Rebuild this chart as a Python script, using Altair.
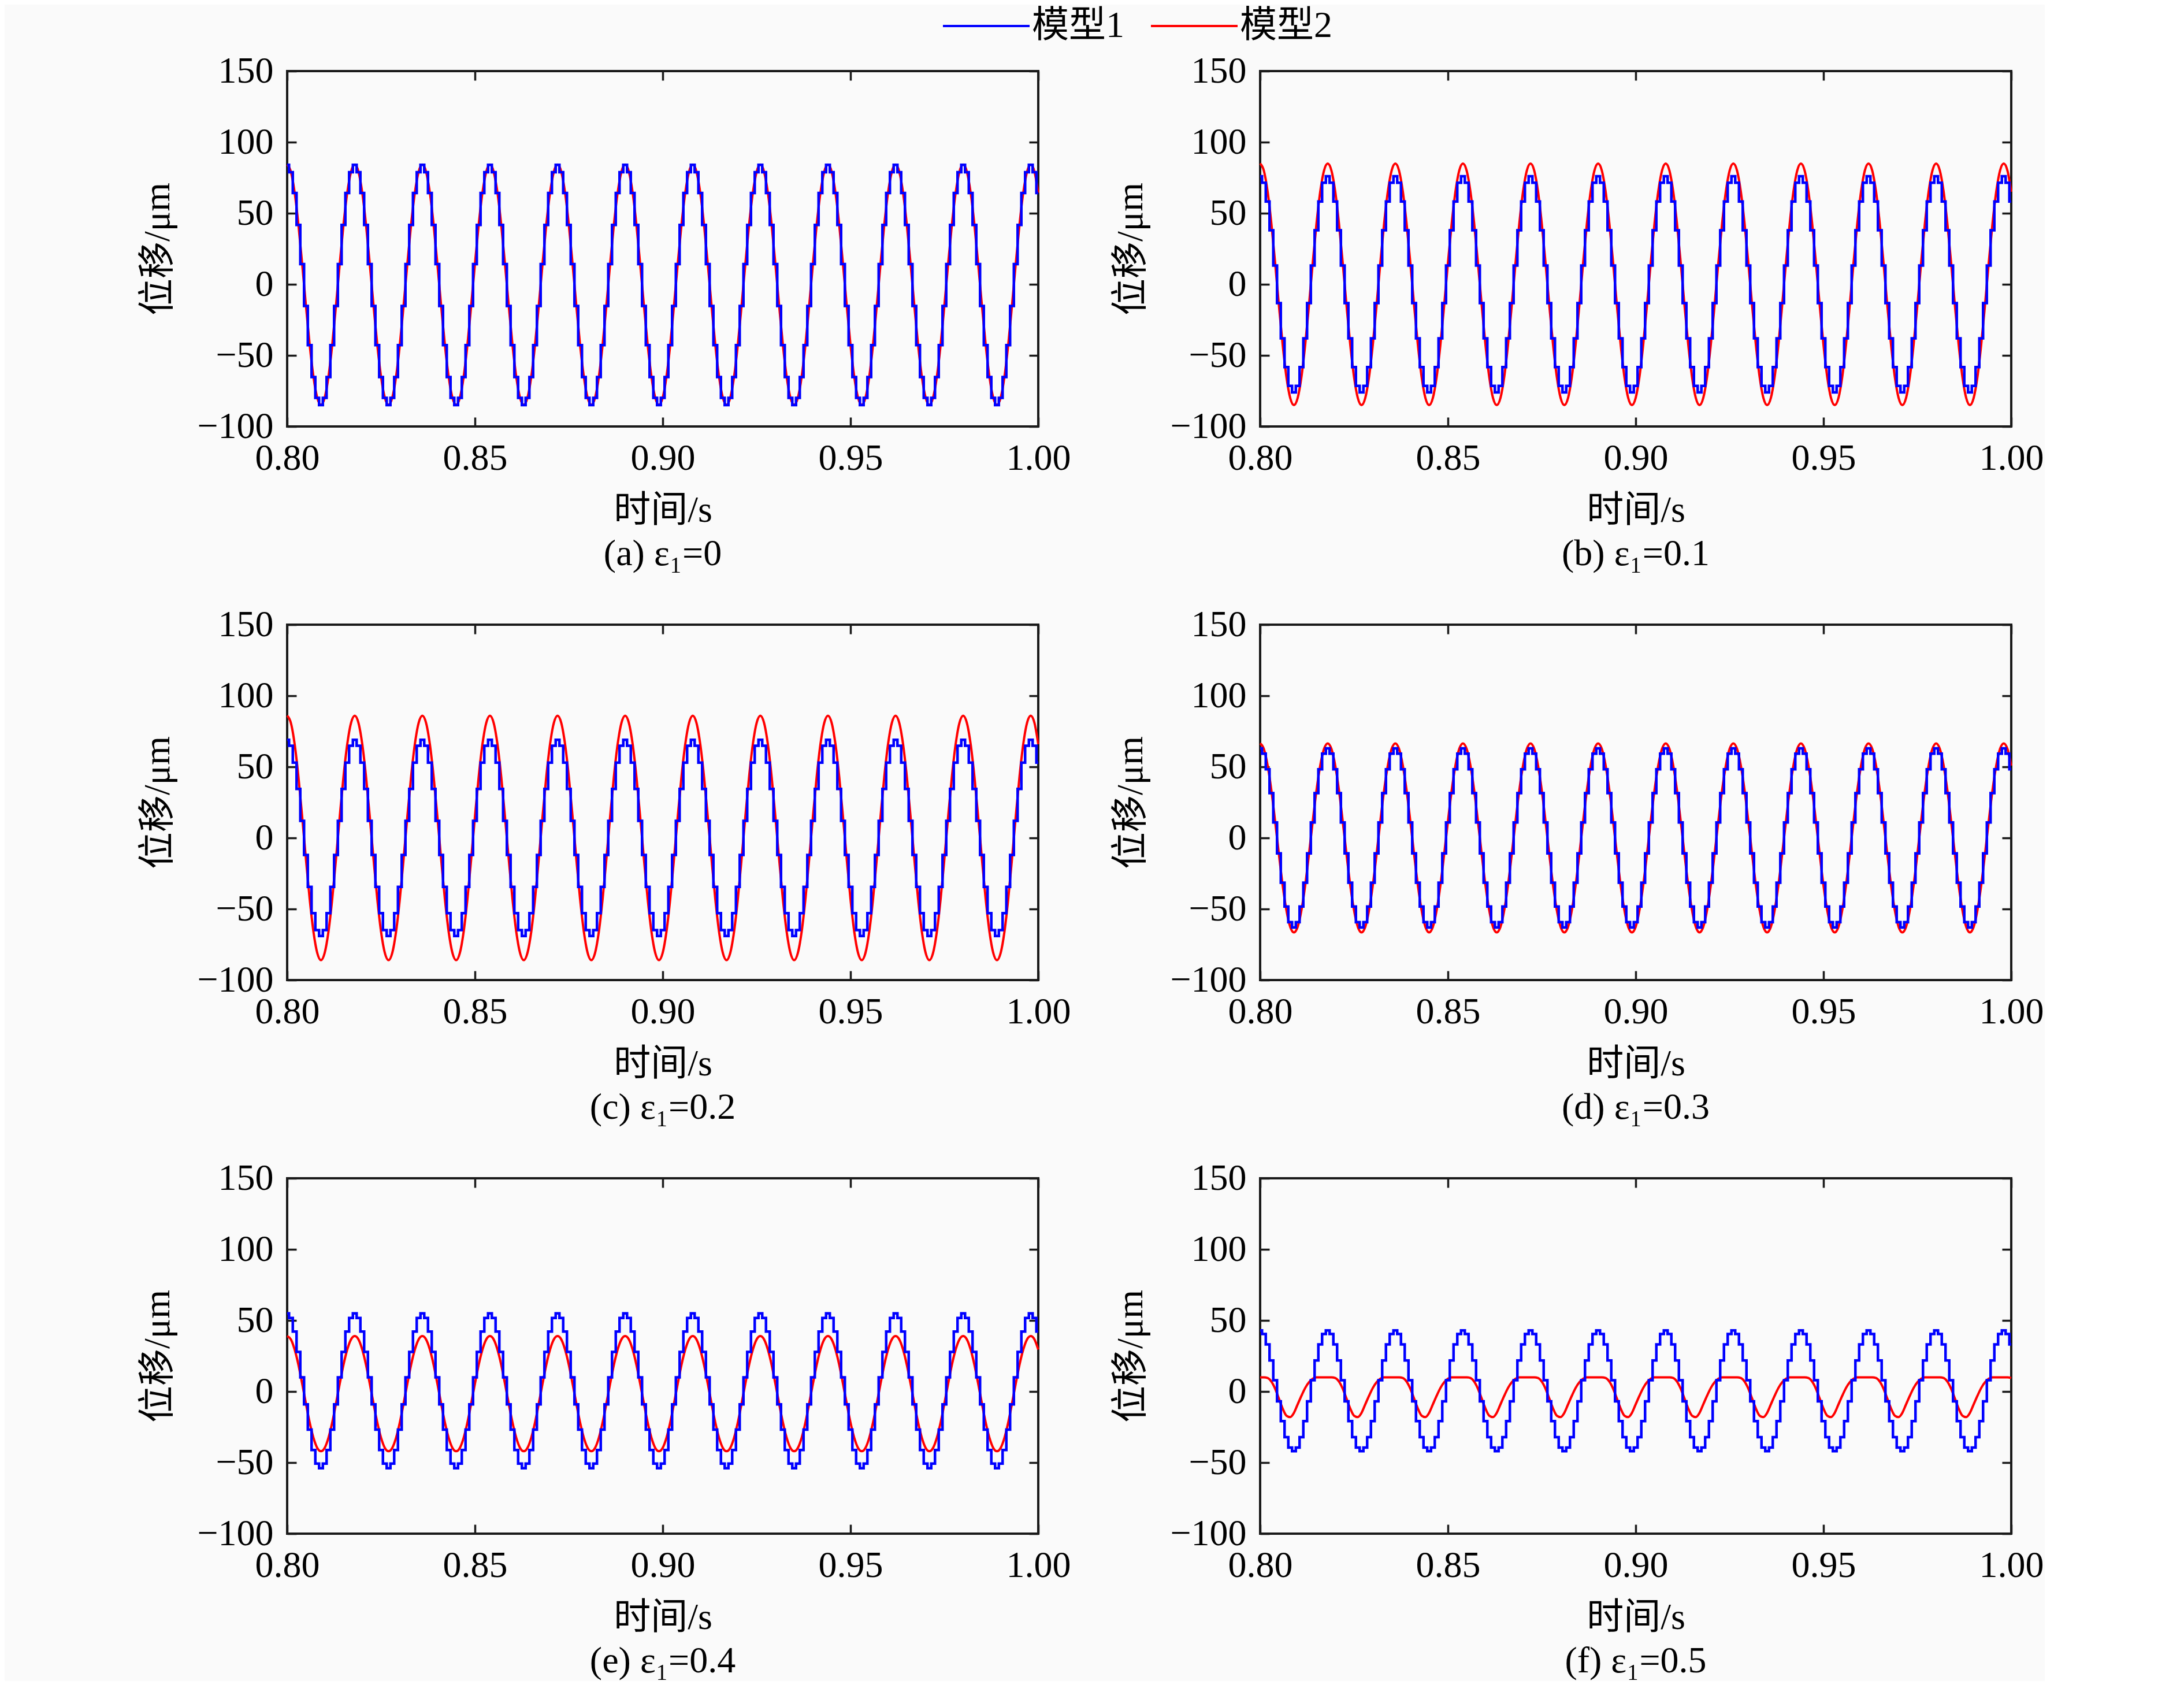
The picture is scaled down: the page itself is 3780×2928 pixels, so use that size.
import altair as alt
import pandas as pd

SERIES = ["模型1", "模型2"]
COLORS = ["#0000ff", "#ff0000"]
PANEL_TITLES = ["(a) ε₁=0", "(b) ε₁=0.1", "(c) ε₁=0.2", "(d) ε₁=0.3", "(e) ε₁=0.4", "(f) ε₁=0.5"]
X_TICKS = [0.80, 0.85, 0.90, 0.95, 1.00]
Y_TICKS = [-100, -50, 0, 50, 100, 150]
TIME_MS = list(range(800, 1001))  # 1 ms sampling grid, 0.800 s .. 1.000 s

# displacement (um) read at each 1 ms sample
BLUE_A = [
    84, 78.9, 64.2, 41.8, 14.2, -15.2, -42.8, -65.2, -79.9, -85, -79.9, -65.2, -42.8, -15.2, 14.2, 41.8, 64.2, 78.9,
    84, 78.9, 64.2, 41.8, 14.2, -15.2, -42.8, -65.2, -79.9, -85, -79.9, -65.2, -42.8, -15.2, 14.2, 41.8, 64.2, 78.9,
    84, 78.9, 64.2, 41.8, 14.2, -15.2, -42.8, -65.2, -79.9, -85, -79.9, -65.2, -42.8, -15.2, 14.2, 41.8, 64.2, 78.9,
    84, 78.9, 64.2, 41.8, 14.2, -15.2, -42.8, -65.2, -79.9, -85, -79.9, -65.2, -42.8, -15.2, 14.2, 41.8, 64.2, 78.9,
    84, 78.9, 64.2, 41.8, 14.2, -15.2, -42.8, -65.2, -79.9, -85, -79.9, -65.2, -42.8, -15.2, 14.2, 41.8, 64.2, 78.9,
    84, 78.9, 64.2, 41.8, 14.2, -15.2, -42.8, -65.2, -79.9, -85, -79.9, -65.2, -42.8, -15.2, 14.2, 41.8, 64.2, 78.9,
    84, 78.9, 64.2, 41.8, 14.2, -15.2, -42.8, -65.2, -79.9, -85, -79.9, -65.2, -42.8, -15.2, 14.2, 41.8, 64.2, 78.9,
    84, 78.9, 64.2, 41.8, 14.2, -15.2, -42.8, -65.2, -79.9, -85, -79.9, -65.2, -42.8, -15.2, 14.2, 41.8, 64.2, 78.9,
    84, 78.9, 64.2, 41.8, 14.2, -15.2, -42.8, -65.2, -79.9, -85, -79.9, -65.2, -42.8, -15.2, 14.2, 41.8, 64.2, 78.9,
    84, 78.9, 64.2, 41.8, 14.2, -15.2, -42.8, -65.2, -79.9, -85, -79.9, -65.2, -42.8, -15.2, 14.2, 41.8, 64.2, 78.9,
    84, 78.9, 64.2, 41.8, 14.2, -15.2, -42.8, -65.2, -79.9, -85, -79.9, -65.2, -42.8, -15.2, 14.2, 41.8, 64.2, 78.9,
    84, 78.9, 64.2,
]
RED_A = [
    84.2, 79.1, 64.4, 41.9, 14.3, -15.0, -42.6, -65.0, -79.7, -84.8, -79.7, -65.0, -42.6, -15.0, 14.3, 41.9, 64.4, 79.1,
    84.2, 79.1, 64.4, 41.9, 14.3, -15.0, -42.6, -65.0, -79.7, -84.8, -79.7, -65.0, -42.6, -15.0, 14.3, 41.9, 64.4, 79.1,
    84.2, 79.1, 64.4, 41.9, 14.3, -15.0, -42.6, -65.0, -79.7, -84.8, -79.7, -65.0, -42.6, -15.0, 14.3, 41.9, 64.4, 79.1,
    84.2, 79.1, 64.4, 41.9, 14.3, -15.0, -42.6, -65.0, -79.7, -84.8, -79.7, -65.0, -42.6, -15.0, 14.3, 41.9, 64.4, 79.1,
    84.2, 79.1, 64.4, 41.9, 14.3, -15.0, -42.6, -65.0, -79.7, -84.8, -79.7, -65.0, -42.6, -15.0, 14.3, 41.9, 64.4, 79.1,
    84.2, 79.1, 64.4, 41.9, 14.3, -15.0, -42.6, -65.0, -79.7, -84.8, -79.7, -65.0, -42.6, -15.0, 14.3, 41.9, 64.4, 79.1,
    84.2, 79.1, 64.4, 41.9, 14.3, -15.0, -42.6, -65.0, -79.7, -84.8, -79.7, -65.0, -42.6, -15.0, 14.3, 41.9, 64.4, 79.1,
    84.2, 79.1, 64.4, 41.9, 14.3, -15.0, -42.6, -65.0, -79.7, -84.8, -79.7, -65.0, -42.6, -15.0, 14.3, 41.9, 64.4, 79.1,
    84.2, 79.1, 64.4, 41.9, 14.3, -15.0, -42.6, -65.0, -79.7, -84.8, -79.7, -65.0, -42.6, -15.0, 14.3, 41.9, 64.4, 79.1,
    84.2, 79.1, 64.4, 41.9, 14.3, -15.0, -42.6, -65.0, -79.7, -84.8, -79.7, -65.0, -42.6, -15.0, 14.3, 41.9, 64.4, 79.1,
    84.2, 79.1, 64.4, 41.9, 14.3, -15.0, -42.6, -65.0, -79.7, -84.8, -79.7, -65.0, -42.6, -15.0, 14.3, 41.9, 64.4, 79.1,
    84.2, 79.1, 64.4,
]
BLUE_B = [
    76, 71.4, 58.2, 38, 13.2, -13.2, -38, -58.2, -71.4, -76, -71.4, -58.2, -38, -13.2, 13.2, 38, 58.2, 71.4,
    76, 71.4, 58.2, 38, 13.2, -13.2, -38, -58.2, -71.4, -76, -71.4, -58.2, -38, -13.2, 13.2, 38, 58.2, 71.4,
    76, 71.4, 58.2, 38, 13.2, -13.2, -38, -58.2, -71.4, -76, -71.4, -58.2, -38, -13.2, 13.2, 38, 58.2, 71.4,
    76, 71.4, 58.2, 38, 13.2, -13.2, -38, -58.2, -71.4, -76, -71.4, -58.2, -38, -13.2, 13.2, 38, 58.2, 71.4,
    76, 71.4, 58.2, 38, 13.2, -13.2, -38, -58.2, -71.4, -76, -71.4, -58.2, -38, -13.2, 13.2, 38, 58.2, 71.4,
    76, 71.4, 58.2, 38, 13.2, -13.2, -38, -58.2, -71.4, -76, -71.4, -58.2, -38, -13.2, 13.2, 38, 58.2, 71.4,
    76, 71.4, 58.2, 38, 13.2, -13.2, -38, -58.2, -71.4, -76, -71.4, -58.2, -38, -13.2, 13.2, 38, 58.2, 71.4,
    76, 71.4, 58.2, 38, 13.2, -13.2, -38, -58.2, -71.4, -76, -71.4, -58.2, -38, -13.2, 13.2, 38, 58.2, 71.4,
    76, 71.4, 58.2, 38, 13.2, -13.2, -38, -58.2, -71.4, -76, -71.4, -58.2, -38, -13.2, 13.2, 38, 58.2, 71.4,
    76, 71.4, 58.2, 38, 13.2, -13.2, -38, -58.2, -71.4, -76, -71.4, -58.2, -38, -13.2, 13.2, 38, 58.2, 71.4,
    76, 71.4, 58.2, 38, 13.2, -13.2, -38, -58.2, -71.4, -76, -71.4, -58.2, -38, -13.2, 13.2, 38, 58.2, 71.4,
    76, 71.4, 58.2,
]
RED_B = [
    85, 79.9, 65.1, 42.5, 14.8, -14.8, -42.5, -65.1, -79.9, -85, -79.9, -65.1, -42.5, -14.8, 14.8, 42.5, 65.1, 79.9,
    85, 79.9, 65.1, 42.5, 14.8, -14.8, -42.5, -65.1, -79.9, -85, -79.9, -65.1, -42.5, -14.8, 14.8, 42.5, 65.1, 79.9,
    85, 79.9, 65.1, 42.5, 14.8, -14.8, -42.5, -65.1, -79.9, -85, -79.9, -65.1, -42.5, -14.8, 14.8, 42.5, 65.1, 79.9,
    85, 79.9, 65.1, 42.5, 14.8, -14.8, -42.5, -65.1, -79.9, -85, -79.9, -65.1, -42.5, -14.8, 14.8, 42.5, 65.1, 79.9,
    85, 79.9, 65.1, 42.5, 14.8, -14.8, -42.5, -65.1, -79.9, -85, -79.9, -65.1, -42.5, -14.8, 14.8, 42.5, 65.1, 79.9,
    85, 79.9, 65.1, 42.5, 14.8, -14.8, -42.5, -65.1, -79.9, -85, -79.9, -65.1, -42.5, -14.8, 14.8, 42.5, 65.1, 79.9,
    85, 79.9, 65.1, 42.5, 14.8, -14.8, -42.5, -65.1, -79.9, -85, -79.9, -65.1, -42.5, -14.8, 14.8, 42.5, 65.1, 79.9,
    85, 79.9, 65.1, 42.5, 14.8, -14.8, -42.5, -65.1, -79.9, -85, -79.9, -65.1, -42.5, -14.8, 14.8, 42.5, 65.1, 79.9,
    85, 79.9, 65.1, 42.5, 14.8, -14.8, -42.5, -65.1, -79.9, -85, -79.9, -65.1, -42.5, -14.8, 14.8, 42.5, 65.1, 79.9,
    85, 79.9, 65.1, 42.5, 14.8, -14.8, -42.5, -65.1, -79.9, -85, -79.9, -65.1, -42.5, -14.8, 14.8, 42.5, 65.1, 79.9,
    85, 79.9, 65.1, 42.5, 14.8, -14.8, -42.5, -65.1, -79.9, -85, -79.9, -65.1, -42.5, -14.8, 14.8, 42.5, 65.1, 79.9,
    85, 79.9, 65.1,
]
BLUE_C = [
    69, 64.8, 52.9, 34.5, 12, -12, -34.5, -52.9, -64.8, -69, -64.8, -52.9, -34.5, -12, 12, 34.5, 52.9, 64.8,
    69, 64.8, 52.9, 34.5, 12, -12, -34.5, -52.9, -64.8, -69, -64.8, -52.9, -34.5, -12, 12, 34.5, 52.9, 64.8,
    69, 64.8, 52.9, 34.5, 12, -12, -34.5, -52.9, -64.8, -69, -64.8, -52.9, -34.5, -12, 12, 34.5, 52.9, 64.8,
    69, 64.8, 52.9, 34.5, 12, -12, -34.5, -52.9, -64.8, -69, -64.8, -52.9, -34.5, -12, 12, 34.5, 52.9, 64.8,
    69, 64.8, 52.9, 34.5, 12, -12, -34.5, -52.9, -64.8, -69, -64.8, -52.9, -34.5, -12, 12, 34.5, 52.9, 64.8,
    69, 64.8, 52.9, 34.5, 12, -12, -34.5, -52.9, -64.8, -69, -64.8, -52.9, -34.5, -12, 12, 34.5, 52.9, 64.8,
    69, 64.8, 52.9, 34.5, 12, -12, -34.5, -52.9, -64.8, -69, -64.8, -52.9, -34.5, -12, 12, 34.5, 52.9, 64.8,
    69, 64.8, 52.9, 34.5, 12, -12, -34.5, -52.9, -64.8, -69, -64.8, -52.9, -34.5, -12, 12, 34.5, 52.9, 64.8,
    69, 64.8, 52.9, 34.5, 12, -12, -34.5, -52.9, -64.8, -69, -64.8, -52.9, -34.5, -12, 12, 34.5, 52.9, 64.8,
    69, 64.8, 52.9, 34.5, 12, -12, -34.5, -52.9, -64.8, -69, -64.8, -52.9, -34.5, -12, 12, 34.5, 52.9, 64.8,
    69, 64.8, 52.9, 34.5, 12, -12, -34.5, -52.9, -64.8, -69, -64.8, -52.9, -34.5, -12, 12, 34.5, 52.9, 64.8,
    69, 64.8, 52.9,
]
RED_C = [
    86, 80.8, 65.9, 43, 14.9, -14.9, -43, -65.9, -80.8, -86, -80.8, -65.9, -43, -14.9, 14.9, 43, 65.9, 80.8,
    86, 80.8, 65.9, 43, 14.9, -14.9, -43, -65.9, -80.8, -86, -80.8, -65.9, -43, -14.9, 14.9, 43, 65.9, 80.8,
    86, 80.8, 65.9, 43, 14.9, -14.9, -43, -65.9, -80.8, -86, -80.8, -65.9, -43, -14.9, 14.9, 43, 65.9, 80.8,
    86, 80.8, 65.9, 43, 14.9, -14.9, -43, -65.9, -80.8, -86, -80.8, -65.9, -43, -14.9, 14.9, 43, 65.9, 80.8,
    86, 80.8, 65.9, 43, 14.9, -14.9, -43, -65.9, -80.8, -86, -80.8, -65.9, -43, -14.9, 14.9, 43, 65.9, 80.8,
    86, 80.8, 65.9, 43, 14.9, -14.9, -43, -65.9, -80.8, -86, -80.8, -65.9, -43, -14.9, 14.9, 43, 65.9, 80.8,
    86, 80.8, 65.9, 43, 14.9, -14.9, -43, -65.9, -80.8, -86, -80.8, -65.9, -43, -14.9, 14.9, 43, 65.9, 80.8,
    86, 80.8, 65.9, 43, 14.9, -14.9, -43, -65.9, -80.8, -86, -80.8, -65.9, -43, -14.9, 14.9, 43, 65.9, 80.8,
    86, 80.8, 65.9, 43, 14.9, -14.9, -43, -65.9, -80.8, -86, -80.8, -65.9, -43, -14.9, 14.9, 43, 65.9, 80.8,
    86, 80.8, 65.9, 43, 14.9, -14.9, -43, -65.9, -80.8, -86, -80.8, -65.9, -43, -14.9, 14.9, 43, 65.9, 80.8,
    86, 80.8, 65.9, 43, 14.9, -14.9, -43, -65.9, -80.8, -86, -80.8, -65.9, -43, -14.9, 14.9, 43, 65.9, 80.8,
    86, 80.8, 65.9,
]
BLUE_D = [
    63, 59.2, 48.3, 31.5, 10.9, -10.9, -31.5, -48.3, -59.2, -63, -59.2, -48.3, -31.5, -10.9, 10.9, 31.5, 48.3, 59.2,
    63, 59.2, 48.3, 31.5, 10.9, -10.9, -31.5, -48.3, -59.2, -63, -59.2, -48.3, -31.5, -10.9, 10.9, 31.5, 48.3, 59.2,
    63, 59.2, 48.3, 31.5, 10.9, -10.9, -31.5, -48.3, -59.2, -63, -59.2, -48.3, -31.5, -10.9, 10.9, 31.5, 48.3, 59.2,
    63, 59.2, 48.3, 31.5, 10.9, -10.9, -31.5, -48.3, -59.2, -63, -59.2, -48.3, -31.5, -10.9, 10.9, 31.5, 48.3, 59.2,
    63, 59.2, 48.3, 31.5, 10.9, -10.9, -31.5, -48.3, -59.2, -63, -59.2, -48.3, -31.5, -10.9, 10.9, 31.5, 48.3, 59.2,
    63, 59.2, 48.3, 31.5, 10.9, -10.9, -31.5, -48.3, -59.2, -63, -59.2, -48.3, -31.5, -10.9, 10.9, 31.5, 48.3, 59.2,
    63, 59.2, 48.3, 31.5, 10.9, -10.9, -31.5, -48.3, -59.2, -63, -59.2, -48.3, -31.5, -10.9, 10.9, 31.5, 48.3, 59.2,
    63, 59.2, 48.3, 31.5, 10.9, -10.9, -31.5, -48.3, -59.2, -63, -59.2, -48.3, -31.5, -10.9, 10.9, 31.5, 48.3, 59.2,
    63, 59.2, 48.3, 31.5, 10.9, -10.9, -31.5, -48.3, -59.2, -63, -59.2, -48.3, -31.5, -10.9, 10.9, 31.5, 48.3, 59.2,
    63, 59.2, 48.3, 31.5, 10.9, -10.9, -31.5, -48.3, -59.2, -63, -59.2, -48.3, -31.5, -10.9, 10.9, 31.5, 48.3, 59.2,
    63, 59.2, 48.3, 31.5, 10.9, -10.9, -31.5, -48.3, -59.2, -63, -59.2, -48.3, -31.5, -10.9, 10.9, 31.5, 48.3, 59.2,
    63, 59.2, 48.3,
]
RED_D = [
    66.5, 62.5, 50.9, 33.3, 11.5, -11.5, -33.3, -50.9, -62.5, -66.5, -62.5, -50.9, -33.3, -11.5, 11.5, 33.3, 50.9, 62.5,
    66.5, 62.5, 50.9, 33.3, 11.5, -11.5, -33.3, -50.9, -62.5, -66.5, -62.5, -50.9, -33.3, -11.5, 11.5, 33.3, 50.9, 62.5,
    66.5, 62.5, 50.9, 33.3, 11.5, -11.5, -33.3, -50.9, -62.5, -66.5, -62.5, -50.9, -33.3, -11.5, 11.5, 33.3, 50.9, 62.5,
    66.5, 62.5, 50.9, 33.3, 11.5, -11.5, -33.3, -50.9, -62.5, -66.5, -62.5, -50.9, -33.3, -11.5, 11.5, 33.3, 50.9, 62.5,
    66.5, 62.5, 50.9, 33.3, 11.5, -11.5, -33.3, -50.9, -62.5, -66.5, -62.5, -50.9, -33.3, -11.5, 11.5, 33.3, 50.9, 62.5,
    66.5, 62.5, 50.9, 33.3, 11.5, -11.5, -33.3, -50.9, -62.5, -66.5, -62.5, -50.9, -33.3, -11.5, 11.5, 33.3, 50.9, 62.5,
    66.5, 62.5, 50.9, 33.3, 11.5, -11.5, -33.3, -50.9, -62.5, -66.5, -62.5, -50.9, -33.3, -11.5, 11.5, 33.3, 50.9, 62.5,
    66.5, 62.5, 50.9, 33.3, 11.5, -11.5, -33.3, -50.9, -62.5, -66.5, -62.5, -50.9, -33.3, -11.5, 11.5, 33.3, 50.9, 62.5,
    66.5, 62.5, 50.9, 33.3, 11.5, -11.5, -33.3, -50.9, -62.5, -66.5, -62.5, -50.9, -33.3, -11.5, 11.5, 33.3, 50.9, 62.5,
    66.5, 62.5, 50.9, 33.3, 11.5, -11.5, -33.3, -50.9, -62.5, -66.5, -62.5, -50.9, -33.3, -11.5, 11.5, 33.3, 50.9, 62.5,
    66.5, 62.5, 50.9, 33.3, 11.5, -11.5, -33.3, -50.9, -62.5, -66.5, -62.5, -50.9, -33.3, -11.5, 11.5, 33.3, 50.9, 62.5,
    66.5, 62.5, 50.9,
]
BLUE_E = [
    55, 51.7, 42.2, 27.8, 10, -9, -26.8, -41.2, -50.7, -54, -50.7, -41.2, -26.8, -9, 10, 27.8, 42.2, 51.7,
    55, 51.7, 42.2, 27.8, 10, -9, -26.8, -41.2, -50.7, -54, -50.7, -41.2, -26.8, -9, 10, 27.8, 42.2, 51.7,
    55, 51.7, 42.2, 27.8, 10, -9, -26.8, -41.2, -50.7, -54, -50.7, -41.2, -26.8, -9, 10, 27.8, 42.2, 51.7,
    55, 51.7, 42.2, 27.8, 10, -9, -26.8, -41.2, -50.7, -54, -50.7, -41.2, -26.8, -9, 10, 27.8, 42.2, 51.7,
    55, 51.7, 42.2, 27.8, 10, -9, -26.8, -41.2, -50.7, -54, -50.7, -41.2, -26.8, -9, 10, 27.8, 42.2, 51.7,
    55, 51.7, 42.2, 27.8, 10, -9, -26.8, -41.2, -50.7, -54, -50.7, -41.2, -26.8, -9, 10, 27.8, 42.2, 51.7,
    55, 51.7, 42.2, 27.8, 10, -9, -26.8, -41.2, -50.7, -54, -50.7, -41.2, -26.8, -9, 10, 27.8, 42.2, 51.7,
    55, 51.7, 42.2, 27.8, 10, -9, -26.8, -41.2, -50.7, -54, -50.7, -41.2, -26.8, -9, 10, 27.8, 42.2, 51.7,
    55, 51.7, 42.2, 27.8, 10, -9, -26.8, -41.2, -50.7, -54, -50.7, -41.2, -26.8, -9, 10, 27.8, 42.2, 51.7,
    55, 51.7, 42.2, 27.8, 10, -9, -26.8, -41.2, -50.7, -54, -50.7, -41.2, -26.8, -9, 10, 27.8, 42.2, 51.7,
    55, 51.7, 42.2, 27.8, 10, -9, -26.8, -41.2, -50.7, -54, -50.7, -41.2, -26.8, -9, 10, 27.8, 42.2, 51.7,
    55, 51.7, 42.2,
]
RED_E = [
    39, 36.6, 29.5, 18.8, 5.5, -8.5, -21.8, -32.5, -39.6, -42, -39.6, -32.5, -21.8, -8.5, 5.5, 18.8, 29.5, 36.6,
    39, 36.6, 29.5, 18.8, 5.5, -8.5, -21.8, -32.5, -39.6, -42, -39.6, -32.5, -21.8, -8.5, 5.5, 18.8, 29.5, 36.6,
    39, 36.6, 29.5, 18.8, 5.5, -8.5, -21.8, -32.5, -39.6, -42, -39.6, -32.5, -21.8, -8.5, 5.5, 18.8, 29.5, 36.6,
    39, 36.6, 29.5, 18.8, 5.5, -8.5, -21.8, -32.5, -39.6, -42, -39.6, -32.5, -21.8, -8.5, 5.5, 18.8, 29.5, 36.6,
    39, 36.6, 29.5, 18.8, 5.5, -8.5, -21.8, -32.5, -39.6, -42, -39.6, -32.5, -21.8, -8.5, 5.5, 18.8, 29.5, 36.6,
    39, 36.6, 29.5, 18.8, 5.5, -8.5, -21.8, -32.5, -39.6, -42, -39.6, -32.5, -21.8, -8.5, 5.5, 18.8, 29.5, 36.6,
    39, 36.6, 29.5, 18.8, 5.5, -8.5, -21.8, -32.5, -39.6, -42, -39.6, -32.5, -21.8, -8.5, 5.5, 18.8, 29.5, 36.6,
    39, 36.6, 29.5, 18.8, 5.5, -8.5, -21.8, -32.5, -39.6, -42, -39.6, -32.5, -21.8, -8.5, 5.5, 18.8, 29.5, 36.6,
    39, 36.6, 29.5, 18.8, 5.5, -8.5, -21.8, -32.5, -39.6, -42, -39.6, -32.5, -21.8, -8.5, 5.5, 18.8, 29.5, 36.6,
    39, 36.6, 29.5, 18.8, 5.5, -8.5, -21.8, -32.5, -39.6, -42, -39.6, -32.5, -21.8, -8.5, 5.5, 18.8, 29.5, 36.6,
    39, 36.6, 29.5, 18.8, 5.5, -8.5, -21.8, -32.5, -39.6, -42, -39.6, -32.5, -21.8, -8.5, 5.5, 18.8, 29.5, 36.6,
    39, 36.6, 29.5,
]
BLUE_F = [
    43, 40.4, 33.1, 21.8, 7.9, -6.9, -20.8, -32.1, -39.4, -42, -39.4, -32.1, -20.8, -6.9, 7.9, 21.8, 33.1, 40.4,
    43, 40.4, 33.1, 21.8, 7.9, -6.9, -20.8, -32.1, -39.4, -42, -39.4, -32.1, -20.8, -6.9, 7.9, 21.8, 33.1, 40.4,
    43, 40.4, 33.1, 21.8, 7.9, -6.9, -20.8, -32.1, -39.4, -42, -39.4, -32.1, -20.8, -6.9, 7.9, 21.8, 33.1, 40.4,
    43, 40.4, 33.1, 21.8, 7.9, -6.9, -20.8, -32.1, -39.4, -42, -39.4, -32.1, -20.8, -6.9, 7.9, 21.8, 33.1, 40.4,
    43, 40.4, 33.1, 21.8, 7.9, -6.9, -20.8, -32.1, -39.4, -42, -39.4, -32.1, -20.8, -6.9, 7.9, 21.8, 33.1, 40.4,
    43, 40.4, 33.1, 21.8, 7.9, -6.9, -20.8, -32.1, -39.4, -42, -39.4, -32.1, -20.8, -6.9, 7.9, 21.8, 33.1, 40.4,
    43, 40.4, 33.1, 21.8, 7.9, -6.9, -20.8, -32.1, -39.4, -42, -39.4, -32.1, -20.8, -6.9, 7.9, 21.8, 33.1, 40.4,
    43, 40.4, 33.1, 21.8, 7.9, -6.9, -20.8, -32.1, -39.4, -42, -39.4, -32.1, -20.8, -6.9, 7.9, 21.8, 33.1, 40.4,
    43, 40.4, 33.1, 21.8, 7.9, -6.9, -20.8, -32.1, -39.4, -42, -39.4, -32.1, -20.8, -6.9, 7.9, 21.8, 33.1, 40.4,
    43, 40.4, 33.1, 21.8, 7.9, -6.9, -20.8, -32.1, -39.4, -42, -39.4, -32.1, -20.8, -6.9, 7.9, 21.8, 33.1, 40.4,
    43, 40.4, 33.1, 21.8, 7.9, -6.9, -20.8, -32.1, -39.4, -42, -39.4, -32.1, -20.8, -6.9, 7.9, 21.8, 33.1, 40.4,
    43, 40.4, 33.1,
]
RED_F = [
    10, 10, 9.5, 7, 2, -5, -12, -17, -18, -15, -9, -3, 2.5, 6.5, 9, 10, 10, 10,
    10, 10, 9.5, 7, 2, -5, -12, -17, -18, -15, -9, -3, 2.5, 6.5, 9, 10, 10, 10,
    10, 10, 9.5, 7, 2, -5, -12, -17, -18, -15, -9, -3, 2.5, 6.5, 9, 10, 10, 10,
    10, 10, 9.5, 7, 2, -5, -12, -17, -18, -15, -9, -3, 2.5, 6.5, 9, 10, 10, 10,
    10, 10, 9.5, 7, 2, -5, -12, -17, -18, -15, -9, -3, 2.5, 6.5, 9, 10, 10, 10,
    10, 10, 9.5, 7, 2, -5, -12, -17, -18, -15, -9, -3, 2.5, 6.5, 9, 10, 10, 10,
    10, 10, 9.5, 7, 2, -5, -12, -17, -18, -15, -9, -3, 2.5, 6.5, 9, 10, 10, 10,
    10, 10, 9.5, 7, 2, -5, -12, -17, -18, -15, -9, -3, 2.5, 6.5, 9, 10, 10, 10,
    10, 10, 9.5, 7, 2, -5, -12, -17, -18, -15, -9, -3, 2.5, 6.5, 9, 10, 10, 10,
    10, 10, 9.5, 7, 2, -5, -12, -17, -18, -15, -9, -3, 2.5, 6.5, 9, 10, 10, 10,
    10, 10, 9.5, 7, 2, -5, -12, -17, -18, -15, -9, -3, 2.5, 6.5, 9, 10, 10, 10,
    10, 10, 9.5,
]

BLUE = [BLUE_A, BLUE_B, BLUE_C, BLUE_D, BLUE_E, BLUE_F]
RED = [RED_A, RED_B, RED_C, RED_D, RED_E, RED_F]

W, H = 1300, 615
SERIF = "'Liberation Serif', 'Noto Sans CJK SC'"
INK = "#1a1a1a"
FS = 64

xs = alt.Scale(domain=[0.8, 1.0], nice=False, zero=False)
ys = alt.Scale(domain=[-100, 150], nice=False, zero=False)
color_scale = alt.Scale(domain=SERIES, range=COLORS)
legend = alt.Legend(
    title=None, orient="none", legendX=1133, legendY=-155, direction="horizontal",
    symbolType="stroke", symbolSize=22500, symbolStrokeWidth=4,
    labelFont=SERIF, labelFontSize=FS, labelColor="#000", labelOffset=2, labelLimit=600,
    columnPadding=38, padding=0,
)


def tick_axis(orient, offset, values):
    return alt.Axis(
        orient=orient, offset=offset, values=values, labels=False, domain=False, grid=False,
        ticks=True, tickSize=16, tickWidth=3.5, tickColor=INK, title=None,
    )


def panel(i):
    n = len(TIME_MS)
    df = pd.DataFrame({
        "t": [ms / 1000 for ms in TIME_MS] * 2,
        "v": BLUE[i] + RED[i],
        "model": [SERIES[0]] * n + [SERIES[1]] * n,
    })
    base = alt.Chart(df)
    col = alt.Color("model:N", scale=color_scale, legend=legend)
    red = base.transform_filter(alt.datum.model == SERIES[1]).mark_line(
        interpolate="monotone", strokeWidth=4
    ).encode(
        x=alt.X("t:Q", scale=xs, axis=alt.Axis(
            orient="bottom", values=X_TICKS, format=".2f", title="时间/s", ticks=False, tickSize=0,
            domain=False, grid=False, labelPadding=23, titlePadding=26, labelFlush=False,
            labelOverlap=False)),
        y=alt.Y("v:Q", scale=ys, axis=alt.Axis(
            orient="left", values=Y_TICKS, title="位移/μm", ticks=False, tickSize=0,
            domain=False, grid=False, labelPadding=24, titlePadding=35, labelOverlap=False)),
        color=col,
    )
    blue = base.transform_filter(alt.datum.model == SERIES[0]).mark_line(
        interpolate="step", strokeWidth=4.5
    ).encode(
        x=alt.X("t:Q", scale=xs, axis=tick_axis("top", -H, X_TICKS)),
        y=alt.Y("v:Q", scale=ys, axis=tick_axis("right", -W, Y_TICKS)),
        color=col,
    )
    ghost = base.transform_filter(alt.datum.model == SERIES[1]).mark_line(
        strokeOpacity=0
    ).encode(
        x=alt.X("t:Q", scale=xs, axis=tick_axis("bottom", -H, X_TICKS)),
        y=alt.Y("v:Q", scale=ys, axis=tick_axis("left", -W, Y_TICKS)),
    )
    return alt.layer(red, blue, ghost).resolve_axis(x="independent", y="independent").properties(
        width=W, height=H,
        title=alt.TitleParams(PANEL_TITLES[i], orient="bottom", anchor="middle", offset=12,
                              font=SERIF, fontSize=FS, fontWeight="normal", color="#000"),
    )


rows = [alt.hconcat(panel(2 * r), panel(2 * r + 1), spacing=68) for r in range(3)]
chart = alt.vconcat(*rows, spacing=54).properties(
    padding={"left": 231, "top": -40, "right": 0, "bottom": 0},
    background="#fafafa",
).configure_axis(
    labelFont=SERIF, labelFontSize=FS, labelColor="#000",
    titleFont=SERIF, titleFontSize=FS, titleFontWeight="normal", titleColor="#000",
).configure_view(
    stroke=INK, strokeWidth=4,
).configure_title(
    font=SERIF, fontSize=FS, fontWeight="normal", color="#000",
)

chart.save("out.html", embed_options={"renderer": "svg", "actions": False})
